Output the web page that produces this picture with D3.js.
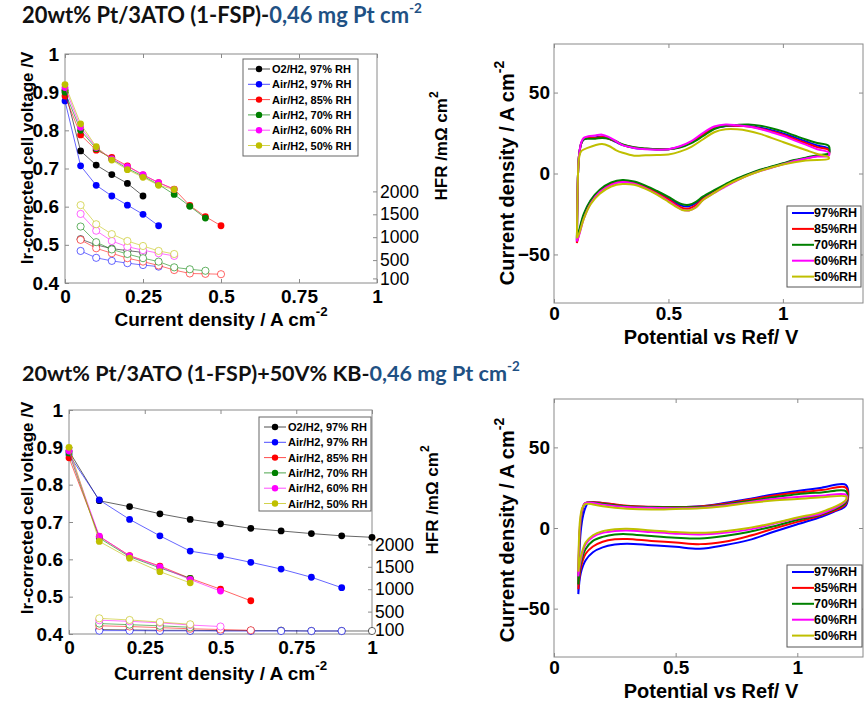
<!DOCTYPE html>
<html>
<head>
<meta charset="utf-8">
<script src="https://cdn.jsdelivr.net/npm/d3@7/dist/d3.min.js"></script>
<style>
  body { margin: 0; background: #fff; }
  svg text { font-family: "Liberation Sans", Arial, sans-serif; }
</style>
</head>
<body>
<svg id="fig" width="864" height="701"></svg>
<script>
// ---- shared series info ----
const polNames = ["O2/H2, 97% RH", "Air/H2, 97% RH", "Air/H2, 85% RH", "Air/H2, 70% RH", "Air/H2, 60% RH", "Air/H2, 50% RH"];
const polColors = ["#000000", "#0000ff", "#ff0000", "#008000", "#ff00ff", "#bfbf00"];
const cvNames = ["97%RH", "85%RH", "70%RH", "60%RH", "50%RH"];
const cvColors = ["#0000ff", "#ff0000", "#008000", "#ff00ff", "#bfbf00"];

const voltTicks = [0.4, 0.5, 0.6, 0.7, 0.8, 0.9, 1];
const currTicks = [0, 0.25, 0.5, 0.75, 1];
const hfrTicks = [100, 500, 1000, 1500, 2000];
const HFR_MAX = 5000;
const cvYTicks = [-50, 0, 50];
const cvXTicks = [0, 0.5, 1];

// ---- top-left: 1-FSP polarization (V) and HFR (mOhm cm2) ----
const tlJ = [0, 0.05, 0.1, 0.15, 0.2, 0.25, 0.3, 0.35, 0.4, 0.45, 0.5];
const tlV_O2_97 = [0.905, 0.746, 0.709, 0.684, 0.661, 0.628];
const tlV_Air97 = [0.877, 0.707, 0.656, 0.628, 0.604, 0.580, 0.550];
const tlV_Air85 = [0.890, 0.788, 0.748, 0.729, 0.707, 0.683, 0.663, 0.646, 0.603, 0.574, 0.550];
const tlV_Air70 = [0.900, 0.800, 0.752, 0.725, 0.700, 0.680, 0.658, 0.632, 0.601, 0.570];
const tlV_Air60 = [0.912, 0.808, 0.755, 0.725, 0.705, 0.684, 0.663, 0.645];
const tlV_Air50 = [0.920, 0.817, 0.757, 0.722, 0.697, 0.677, 0.656, 0.645];
// HFR starts at the second current point
const tlH_O2_97 = [958, 833, 750, 708, 667];
const tlH_Air97 = [700, 550, 483, 433, 392, 358];
const tlH_Air85 = [942, 758, 650, 542, 467, 383, 283, 208, 200, 192];
const tlH_Air70 = [1233, 892, 733, 633, 542, 467, 342, 300, 267];
const tlH_Air60 = [1508, 1142, 917, 792, 717, 650, 592];
const tlH_Air50 = [1700, 1283, 1067, 917, 808, 700, 633];

// ---- bottom-left: 1-FSP + 50V% KB ----
const blJ = [0, 0.1, 0.2, 0.3, 0.4, 0.5, 0.6, 0.7, 0.8, 0.9, 1.0];
const blV_O2_97 = [0.890, 0.757, 0.741, 0.722, 0.707, 0.695, 0.683, 0.676, 0.669, 0.663, 0.659];
const blV_Air97 = [0.880, 0.759, 0.707, 0.663, 0.622, 0.609, 0.592, 0.574, 0.552, 0.524];
const blV_Air85 = [0.872, 0.661, 0.610, 0.582, 0.549, 0.520, 0.489];
const blV_Air70 = [0.885, 0.657, 0.607, 0.577, 0.549];
const blV_Air60 = [0.890, 0.662, 0.609, 0.580, 0.546, 0.515];
const blV_Air50 = [0.900, 0.648, 0.603, 0.567, 0.537];
const blH_O2_97 = [100, 92, 83, 83, 75, 75, 75, 67, 67, 67];
const blH_Air97 = [75, 75, 70, 70, 67, 67, 67, 67, 67];
const blH_Air85 = [183, 167, 142, 117, 100, 83];
const blH_Air70 = [233, 208, 183, 150];
const blH_Air60 = [308, 283, 250, 200, 167];
const blH_Air50 = [350, 313, 267, 217];

// ---- top-right CV, [potential V, current density] ----
const cv1_97 = [[0.10,-42],[0.102,-20],[0.105,0],[0.11,12],[0.12,19],[0.13,21],[0.15,22],[0.18,22.3],[0.21,22.8],[0.24,21.5],[0.27,19.5],[0.30,17.5],[0.35,15.8],[0.40,15.2],[0.45,14.8],[0.50,15],[0.55,16.5],[0.60,19.5],[0.65,24],[0.70,28],[0.75,29.3],[0.80,29.5],[0.85,29.3],[0.90,28.3],[0.95,26.8],[1.00,24.8],[1.05,22.3],[1.10,19.8],[1.15,17.3],[1.20,15.3],
  [1.20,12],[1.15,11],[1.10,9.5],[1.05,8],[1.00,6],[0.95,4],[0.90,2],[0.85,-0.5],[0.80,-3.5],[0.75,-7],[0.70,-11],[0.65,-15],[0.62,-18.3],[0.59,-20.3],[0.56,-20],[0.53,-18],[0.50,-15.5],[0.45,-11.5],[0.40,-8],[0.35,-5.5],[0.30,-4.5],[0.25,-6],[0.20,-10.5],[0.16,-17],[0.13,-26],[0.11,-36],[0.10,-42]];
const cv1_85 = [[0.10,-43],[0.102,-20],[0.105,0],[0.11,12],[0.12,19],[0.13,21.5],[0.15,22],[0.18,22],[0.21,22.5],[0.24,21.5],[0.27,19.8],[0.30,17.8],[0.35,16],[0.40,15.3],[0.45,15],[0.50,15],[0.55,16.3],[0.60,19.3],[0.65,23.8],[0.70,28],[0.75,29.5],[0.80,29.5],[0.85,29],[0.90,27.8],[0.95,26],[1.00,24],[1.05,21.3],[1.10,18.8],[1.15,16.3],[1.20,14.5],
  [1.20,11.5],[1.15,10.8],[1.10,9.3],[1.05,7.8],[1.00,5.8],[0.95,3.8],[0.90,1.8],[0.85,-0.8],[0.80,-4],[0.75,-7.5],[0.70,-11.5],[0.65,-15.8],[0.62,-19.5],[0.59,-21.6],[0.56,-21.3],[0.53,-19],[0.50,-16],[0.45,-12],[0.40,-8.5],[0.35,-6],[0.30,-5],[0.25,-6.5],[0.20,-11],[0.16,-18],[0.13,-27],[0.11,-37],[0.10,-43]];
const cv1_70 = [[0.10,-41],[0.102,-20],[0.105,0],[0.11,12],[0.12,19],[0.13,21],[0.15,21.5],[0.18,21.5],[0.21,22],[0.24,21.5],[0.27,20],[0.30,18],[0.35,16.2],[0.40,15.5],[0.45,15],[0.50,15],[0.55,16],[0.60,18.8],[0.65,23],[0.70,27.5],[0.75,29.5],[0.80,30],[0.85,30.2],[0.90,29.5],[0.95,28],[1.00,26],[1.05,23.5],[1.10,21],[1.15,18.8],[1.20,17],
  [1.20,12.5],[1.15,11.3],[1.10,9.8],[1.05,8.3],[1.00,6.3],[0.95,4.3],[0.90,2.3],[0.85,-0.2],[0.80,-3],[0.75,-6.5],[0.70,-10.3],[0.65,-14.3],[0.62,-17.5],[0.59,-19.3],[0.56,-19],[0.53,-17],[0.50,-14.5],[0.45,-10.8],[0.40,-7.5],[0.35,-5],[0.30,-4],[0.25,-5.5],[0.20,-10],[0.16,-16.5],[0.13,-25],[0.11,-35],[0.10,-41]];
const cv1_60 = [[0.10,-42],[0.102,-20],[0.105,0],[0.11,12],[0.12,19.5],[0.13,22],[0.15,23],[0.18,23.5],[0.21,24],[0.24,22.5],[0.27,20],[0.30,17.5],[0.35,15.8],[0.40,15],[0.45,14.7],[0.50,15],[0.55,16.8],[0.60,20],[0.65,25],[0.70,29],[0.75,30.3],[0.80,29.8],[0.85,29],[0.90,27.5],[0.95,25.5],[1.00,23.3],[1.05,20.5],[1.10,17.8],[1.15,15],[1.20,13],
  [1.20,11],[1.15,10.5],[1.10,9.2],[1.05,7.7],[1.00,5.7],[0.95,3.6],[0.90,1.5],[0.85,-1],[0.80,-4.2],[0.75,-8],[0.70,-12],[0.65,-16.5],[0.62,-20.8],[0.59,-22.8],[0.56,-22.3],[0.53,-19.8],[0.50,-17],[0.45,-12.8],[0.40,-9],[0.35,-6.3],[0.30,-5.3],[0.25,-7],[0.20,-11.5],[0.16,-18.5],[0.13,-28],[0.11,-38],[0.10,-42]];
const cv1_50 = [[0.10,-40],[0.102,-20],[0.105,0],[0.11,10],[0.12,14],[0.15,16],[0.18,17.5],[0.21,18.2],[0.24,17],[0.27,14.5],[0.30,12.8],[0.35,11],[0.40,11.2],[0.45,11.4],[0.50,11.8],[0.55,13.5],[0.60,16.5],[0.65,21],[0.70,25.5],[0.75,27.3],[0.80,27.3],[0.85,26.3],[0.90,24.5],[0.95,22],[1.00,19.5],[1.05,17],[1.10,14.5],[1.15,12],[1.20,10],
  [1.20,9],[1.10,8],[1.00,5.5],[0.90,1.5],[0.80,-4],[0.75,-7.5],[0.70,-12],[0.65,-16.5],[0.62,-21],[0.59,-22.8],[0.56,-22.5],[0.53,-20.3],[0.50,-17.5],[0.45,-13],[0.40,-9.5],[0.35,-7],[0.30,-6.5],[0.25,-8],[0.20,-12.5],[0.16,-19],[0.13,-28],[0.11,-37],[0.10,-40]];

// ---- bottom-right CV ----
const cv2_97 = [[0.10,-41],[0.103,-20],[0.11,-2],[0.12,8],[0.13,13],[0.14,15.5],[0.16,16],[0.20,15.5],[0.25,14.5],[0.30,13.5],[0.40,13],[0.50,13],[0.60,13.5],[0.70,15.5],[0.80,18],[0.90,20.8],[1.00,23],[1.10,25],[1.20,26.7],
  [1.20,14],[1.15,10],[1.10,7],[1.00,2.3],[0.90,-2.5],[0.80,-7.5],[0.70,-10.7],[0.60,-12.8],[0.50,-11.7],[0.40,-10.7],[0.30,-9.7],[0.25,-10.3],[0.20,-12],[0.16,-15],[0.13,-20],[0.11,-28],[0.10,-41]];
const cv2_85 = [[0.10,-38],[0.102,-20],[0.107,0],[0.115,10],[0.125,15],[0.14,16],[0.20,15.5],[0.30,13.8],[0.40,13.2],[0.50,13],[0.60,13.3],[0.70,15],[0.80,17.5],[0.90,20],[1.00,22],[1.10,23.5],[1.20,25],
  [1.20,15],[1.10,8],[1.00,3.8],[0.90,-0.5],[0.80,-5],[0.70,-8.5],[0.60,-10],[0.50,-9],[0.40,-8],[0.30,-6.8],[0.25,-7],[0.20,-8.5],[0.16,-11.5],[0.13,-16],[0.11,-25],[0.10,-38]];
const cv2_70 = [[0.10,-35],[0.102,-18],[0.107,0],[0.115,10],[0.125,15],[0.14,16],[0.20,15],[0.30,13.5],[0.40,13],[0.50,12.8],[0.60,13],[0.70,14.5],[0.80,16.8],[0.90,19],[1.00,21],[1.10,22],[1.20,22.8],
  [1.20,16],[1.10,8.5],[1.00,5],[0.90,1],[0.80,-2.5],[0.70,-5],[0.60,-6.5],[0.50,-6],[0.40,-5],[0.30,-3.8],[0.25,-4],[0.20,-5.5],[0.16,-8],[0.13,-13],[0.11,-22],[0.10,-35]];
const cv2_60 = [[0.10,-30],[0.102,-14],[0.107,2],[0.115,11],[0.125,15],[0.14,15.8],[0.20,14.5],[0.30,13],[0.40,12.5],[0.50,12.3],[0.60,12.6],[0.70,14],[0.80,16],[0.90,18],[1.00,19.3],[1.10,20],[1.20,20.6],
  [1.20,17],[1.10,9],[1.00,6],[0.90,2.5],[0.80,-1],[0.70,-3],[0.60,-4],[0.50,-3.5],[0.40,-2.5],[0.30,-1.5],[0.25,-1.8],[0.20,-3],[0.16,-5.5],[0.13,-10],[0.11,-20],[0.10,-30]];
const cv2_50 = [[0.10,-27],[0.102,-10],[0.107,5],[0.115,12],[0.125,14.5],[0.14,15],[0.20,13.5],[0.30,12],[0.40,11.5],[0.50,11.8],[0.60,12.2],[0.70,13.5],[0.80,15.5],[0.90,17],[1.00,18],[1.10,19],[1.20,19.5],
  [1.20,17.5],[1.10,10],[1.00,6.5],[0.90,3],[0.80,0],[0.70,-2],[0.60,-3],[0.50,-2.5],[0.40,-1.5],[0.30,-0.5],[0.25,-0.8],[0.20,-2],[0.16,-4.5],[0.13,-9],[0.11,-18],[0.10,-27]];

const svg = d3.select("#fig");
const FRAME = "#8a8a8a";

// title with a blue loading part and superscript
function drawTitle(y, black, targetWidth) {
  const t = svg.append("text")
    .attr("x", 22).attr("y", y)
    .style("font-family", "Lato, 'Open Sans', sans-serif")
    .attr("font-weight", "bold").attr("font-size", 20);
  t.append("tspan").text(black).attr("fill", "#111");
  t.append("tspan").text("0,46 mg Pt cm").attr("fill", "#1f5184");
  t.append("tspan").text("-2").attr("fill", "#1f5184")
    .attr("font-size", "0.62em").attr("dy", "-0.75em");
  // fit the measured width to the reference
  const w = t.node().getComputedTextLength();
  t.attr("font-size", 20 * targetWidth / w);
}

function supLabel(g, x, y, main, sup, size, rotate) {
  const t = g.append("text")
    .attr("transform", `translate(${x},${y})` + (rotate ? " rotate(-90)" : ""))
    .attr("text-anchor", "middle").attr("dominant-baseline", "central")
    .attr("font-weight", "bold").attr("font-size", size).attr("fill", "#000");
  t.append("tspan").text(main);
  if (sup) t.append("tspan").text(sup).attr("font-size", "0.7em").attr("dy", "-0.6em");
  return t;
}

function styleAxis(a, bold, size) {
  a.select(".domain").remove();
  a.selectAll(".tick line").attr("stroke", FRAME);
  a.selectAll(".tick text").attr("fill", "#000")
    .attr("font-weight", bold ? "bold" : "normal").attr("font-size", size)
    .style("font-family", "'Liberation Sans', Arial, sans-serif");
}

function drawPolarization(o) {
  const g = svg.append("g");
  const x = d3.scaleLinear().domain([0, 1]).range([o.left, o.right]);
  const y = d3.scaleLinear().domain([0.4, 1]).range([o.bottom, o.top]);
  const h = d3.scaleLinear().domain([0, HFR_MAX]).range([o.bottom, o.top]);

  g.append("rect").attr("x", o.left).attr("y", o.top)
    .attr("width", o.right - o.left).attr("height", o.bottom - o.top)
    .attr("fill", "#fff").attr("stroke", FRAME);

  const fmt = d => String(+d.toFixed(2));
  styleAxis(g.append("g").attr("transform", `translate(0,${o.bottom})`)
    .call(d3.axisBottom(x).tickValues(currTicks).tickFormat(fmt).tickSize(-4).tickPadding(7)), true, 19);
  styleAxis(g.append("g").attr("transform", `translate(0,${o.top})`)
    .call(d3.axisTop(x).tickValues(currTicks).tickFormat("").tickSize(-4)), true, 19);
  styleAxis(g.append("g").attr("transform", `translate(${o.left},0)`)
    .call(d3.axisLeft(y).tickValues(voltTicks).tickFormat(fmt).tickSize(-4).tickPadding(6)), true, 19);
  styleAxis(g.append("g").attr("transform", `translate(${o.right},0)`)
    .call(d3.axisRight(h).tickValues(hfrTicks).tickFormat(d3.format("d")).tickSize(-4).tickPadding(3)), false, 17.5);

  const line = d3.line().x(d => x(d[0])).y(d => y(d[1]));
  const hline = d3.line().x(d => x(d[0])).y(d => h(d[1]));

  // HFR (open circles), starting at the second current point
  o.H.forEach((arr, i) => {
    const pts = arr.map((v, k) => [o.J[k + 1], v]);
    g.append("path").attr("d", hline(pts)).attr("fill", "none")
      .attr("stroke", polColors[i]).attr("stroke-opacity", 0.55).attr("stroke-width", 1);
    g.selectAll(null).data(pts).join("circle")
      .attr("cx", d => x(d[0])).attr("cy", d => h(d[1])).attr("r", 3.6)
      .attr("fill", "#fff").attr("stroke", polColors[i]).attr("stroke-opacity", 0.6);
  });

  // cell voltage (filled circles)
  o.V.forEach((arr, i) => {
    const pts = arr.map((v, k) => [o.J[k], v]);
    g.append("path").attr("d", line(pts)).attr("fill", "none")
      .attr("stroke", polColors[i]).attr("stroke-opacity", 0.6).attr("stroke-width", 1);
    g.selectAll(null).data(pts).join("circle")
      .attr("cx", d => x(d[0])).attr("cy", d => y(d[1])).attr("r", 3.4)
      .attr("fill", polColors[i]);
  });

  // legend
  const L = o.legend;
  g.append("rect").attr("x", L.x).attr("y", L.y).attr("width", L.w).attr("height", L.h)
    .attr("fill", "#fff").attr("stroke", "#666");
  polNames.forEach((name, i) => {
    const ry = L.y + 10 + i * 15.3;
    g.append("line").attr("x1", L.x + 5).attr("x2", L.x + 27).attr("y1", ry).attr("y2", ry)
      .attr("stroke", polColors[i]).attr("stroke-opacity", 0.7);
    g.append("circle").attr("cx", L.x + 16).attr("cy", ry).attr("r", 3.2).attr("fill", polColors[i]);
    g.append("text").attr("x", L.x + 29).attr("y", ry).attr("dominant-baseline", "central")
      .attr("font-size", 11).attr("font-weight", "bold").text(name);
  });

  supLabel(g, o.yLabelX, o.yLabelY, "Ir-corrected cell voltage /V", null, 17, true);
  supLabel(g, (o.left + o.right) / 2, o.xLabelY, "Current density / A cm", "-2", 19, false);
  supLabel(g, o.hLabelX, o.hLabelY, "HFR /m\u03A9 cm", "2", 17, true);
}

function drawCV(o) {
  const g = svg.append("g");
  const x = d3.scaleLinear().domain([0, o.xMax]).range([o.left, o.right]);
  const y = d3.scaleLinear().domain([-80, 80]).range([o.bottom, o.top]);

  g.append("rect").attr("x", o.left).attr("y", o.top)
    .attr("width", o.right - o.left).attr("height", o.bottom - o.top)
    .attr("fill", "#fff").attr("stroke", FRAME);

  styleAxis(g.append("g").attr("transform", `translate(0,${o.bottom})`)
    .call(d3.axisBottom(x).tickValues(cvXTicks).tickFormat(d3.format("")).tickSize(-4).tickPadding(4)), true, 19);
  styleAxis(g.append("g").attr("transform", `translate(0,${o.top})`)
    .call(d3.axisTop(x).tickValues(cvXTicks).tickFormat("").tickSize(-4)), true, 19);
  styleAxis(g.append("g").attr("transform", `translate(${o.left},0)`)
    .call(d3.axisLeft(y).tickValues(cvYTicks).tickSize(-4).tickPadding(4)), true, 19);
  styleAxis(g.append("g").attr("transform", `translate(${o.right},0)`)
    .call(d3.axisRight(y).tickValues(cvYTicks).tickFormat("").tickSize(-4)), true, 19);

  const line = d3.line().x(d => x(d[0])).y(d => y(d[1])).curve(d3.curveCatmullRom.alpha(0.5));
  o.curves.forEach((c, i) => {
    g.append("path").attr("d", line(c)).attr("fill", "none")
      .attr("stroke", cvColors[i]).attr("stroke-width", 2).attr("stroke-linejoin", "round");
  });

  const L = o.legend;
  g.append("rect").attr("x", L.x).attr("y", L.y).attr("width", L.w).attr("height", L.h)
    .attr("fill", "#fff").attr("stroke", "#555");
  cvNames.forEach((name, i) => {
    const ry = L.y + 7 + i * 15.9;
    g.append("line").attr("x1", L.x + 5).attr("x2", L.x + 27).attr("y1", ry).attr("y2", ry)
      .attr("stroke", cvColors[i]).attr("stroke-width", 2);
    g.append("text").attr("x", L.x + 27).attr("y", ry).attr("dominant-baseline", "central")
      .attr("font-size", 12.5).attr("font-weight", "bold").text(name);
  });

  supLabel(g, 507, o.yLabelY, "Current density / A cm", "-2", 20, true);
  supLabel(g, 711, o.xLabelY, "Potential vs Ref/ V", null, 20, false);
}

drawTitle(23, "20wt% Pt/3ATO (1-FSP)-", 400);
drawTitle(381, "20wt% Pt/3ATO (1-FSP)+50V% KB-", 498);

drawPolarization({
  left: 65, right: 377, top: 54, bottom: 283,
  J: tlJ,
  V: [tlV_O2_97, tlV_Air97, tlV_Air85, tlV_Air70, tlV_Air60, tlV_Air50],
  H: [tlH_O2_97, tlH_Air97, tlH_Air85, tlH_Air70, tlH_Air60, tlH_Air50],
  legend: { x: 243, y: 59, w: 115, h: 97 },
  yLabelX: 27, yLabelY: 158, xLabelY: 319, hLabelX: 441, hLabelY: 146
});

drawPolarization({
  left: 69, right: 372, top: 410, bottom: 634,
  J: blJ,
  V: [blV_O2_97, blV_Air97, blV_Air85, blV_Air70, blV_Air60, blV_Air50],
  H: [blH_O2_97, blH_Air97, blH_Air85, blH_Air70, blH_Air60, blH_Air50],
  legend: { x: 259, y: 417, w: 112, h: 94 },
  yLabelX: 27, yLabelY: 508, xLabelY: 673, hLabelX: 432, hLabelY: 500
});

drawCV({
  left: 554, right: 863, top: 44, bottom: 303, xMax: 1.35,
  curves: [cv1_97, cv1_85, cv1_70, cv1_60, cv1_50],
  legend: { x: 787, y: 206, w: 74, h: 81 },
  yLabelY: 173, xLabelY: 337
});

drawCV({
  left: 554, right: 863, top: 399, bottom: 657, xMax: 1.27,
  curves: [cv2_97, cv2_85, cv2_70, cv2_60, cv2_50],
  legend: { x: 787, y: 565, w: 75, h: 82 },
  yLabelY: 530, xLabelY: 691
});
</script>
</body>
</html>
